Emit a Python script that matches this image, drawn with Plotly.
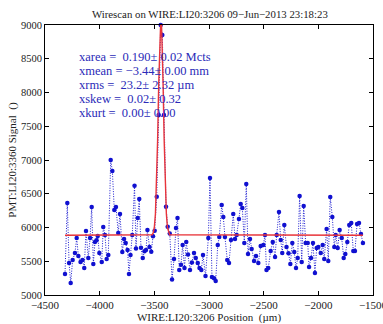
import plotly.graph_objects as go

# Measured wire-scan data (position in µm, PMT signal)
positions = [-4317, -4296, -4280, -4265, -4247, -4226, -4210, -4195, -4175, -4157,
             -4141, -4125, -4104, -4088, -4073, -4058, -4043, -4029, -4018, -4003,
             -3981, -3967, -3951, -3936, -3921, -3899, -3884, -3866, -3851, -3830,
             -3814, -3793, -3777, -3762, -3745, -3732, -3718, -3702, -3681, -3668,
             -3652, -3638, -3622, -3606, -3590, -3576, -3563, -3544, -3528, -3512,
             -3497, -3478, -3460, -3442, -3427, -3412, -3393, -3378, -3359, -3338,
             -3320, -3302, -3288, -3272, -3256, -3241, -3224, -3208, -3192, -3174,
             -3156, -3137, -3121, -3103, -3087, -3070, -3055, -3032, -3006, -2991,
             -2973, -2954, -2939, -2920, -2906, -2884, -2869, -2854, -2833, -2817,
             -2799, -2778, -2762, -2747, -2726, -2710, -2695, -2677, -2659, -2643,
             -2625, -2610, -2588, -2570, -2549, -2527, -2503, -2488, -2474, -2458,
             -2436, -2417, -2396, -2381, -2360, -2344, -2330, -2311, -2291, -2273,
             -2256, -2238, -2220, -2204, -2189, -2171, -2152, -2134, -2116, -2097,
             -2085, -2067, -2049, -2031, -2015, -2000, -1978, -1960, -1946, -1924,
             -1909, -1891, -1872, -1854, -1841, -1823, -1805, -1786, -1768, -1753,
             -1735, -1717, -1699, -1680, -1665, -1646, -1628, -1610, -1592]

signal = [5311, 6363, 5474, 5178, 5519, 5622, 5844, 5578, 5490, 5520,
          5400, 5948, 5548, 5844, 6304, 5459, 5785, 5810, 5874, 5622,
          5489, 6007, 5889, 5533, 5593, 7000, 6837, 6259, 6304, 5918,
          6200, 5637, 5830, 5770, 5667, 5311, 5593, 5889, 6620, 5690,
          6141, 6422, 5700, 5548, 5650, 5667, 5963, 5711, 5640, 5870,
          5953, 6456, 7667, 9000, 8852, 7667, 6308, 6012, 5911, 5230,
          5533, 5993, 6141, 5370, 5450, 5741, 5400, 5785, 5600, 5370,
          5480, 5622, 5550, 5474, 5400, 5370, 5593, 5281, 5844, 6733,
          5267, 5250, 5207, 5741, 5859, 6333, 6156, 5859, 5519, 5474,
          5815, 6200, 5830, 5889, 6126, 6348, 6289, 5770, 6644, 5607,
          5830, 5681, 5504, 5578, 5474, 5726, 5741, 5889, 5370, 5400,
          5652, 5785, 5563, 5889, 6230, 5815, 5622, 6037, 5711, 5620,
          5459, 5770, 5637, 5400, 5548, 6467, 5489, 6319, 5770, 5770,
          5415, 5548, 5770, 5326, 5696, 5711, 5622, 5741, 5533, 5978,
          5504, 6452, 6156, 5711, 5889, 5696, 5963, 5844, 5548, 5607,
          5785, 6037, 6067, 5652, 5652, 6052, 6067, 5904, 5770]

# Gaussian fit curve
fit_x = [-4317, -3520, -3510, -3500, -3490, -3480, -3470, -3460, -3450, -3445,
         -3440, -3435, -3430, -3420, -3410, -3400, -3390, -3380, -3370, -3360, -1592]
fit_y = [5885, 5893, 5919, 6000, 6203, 6620, 7293, 8127, 8846, 9061,
         9135, 9061, 8846, 8127, 7293, 6620, 6203, 6000, 5919, 5893, 5885]

stats_lines = ["xarea =  0.190\u00b1 0.02 Mcts",
               "xmean = \u22123.44\u00b1 0.00 mm",
               "xrms =  23.2\u00b1 2.32 \u00b5m",
               "xskew =  0.02\u00b1 0.32",
               "xkurt =  0.00\u00b1 0.00"]
stats_y = [8526, 8319, 8111, 7904, 7696]

x_ticks = [-4500, -4000, -3500, -3000, -2500, -2000, -1500]
y_ticks = [5000, 5500, 6000, 6500, 7000, 7500, 8000, 8500, 9000]

SERIF = "Liberation Serif, Times New Roman, serif"

fig = go.Figure()
fig.add_trace(go.Scatter(
    x=positions, y=signal, mode="lines+markers",
    line=dict(color="#1a1ad0", width=1, dash="1px,1.5px"),
    marker=dict(color="#1010d0", size=4.5, symbol="circle"),
    cliponaxis=False, showlegend=False, hoverinfo="skip"))
fig.add_trace(go.Scatter(
    x=fit_x, y=fit_y, mode="lines",
    line=dict(color="#e8343a", width=1.4),
    showlegend=False, hoverinfo="skip"))

for txt, yv in zip(stats_lines, stats_y):
    fig.add_annotation(x=-4195, y=yv, text=txt, showarrow=False,
                       xanchor="left", yanchor="middle", borderpad=0,
                       font=dict(family=SERIF, size=12.5, color="#2a2ab8"))

axis_common = dict(showline=True, linecolor="black", linewidth=1, mirror="ticks",
                   ticks="inside", ticklen=4, tickcolor="black", showgrid=False,
                   zeroline=False, automargin=False)

fig.update_xaxes(range=[-4500, -1500], tickvals=x_ticks,
                 ticktext=["\u2212" + str(abs(v)) for v in x_ticks],
                 ticklabeloverflow="allow",
                 tickfont=dict(family=SERIF, size=11, color="#222"),
                 title=dict(text="WIRE:LI20:3206 Position  (\u00b5m)", standoff=0,
                            font=dict(family=SERIF, size=11, color="#222")),
                 **axis_common)
fig.update_yaxes(range=[5000, 9000], tickvals=y_ticks,
                 tickfont=dict(family=SERIF, size=10.5, color="#222"),
                 title=dict(text="PMT:LI20:3360 Signal  ()", standoff=2,
                            font=dict(family=SERIF, size=11, color="#222")),
                 **axis_common)

fig.update_layout(
    width=383, height=324,
    margin=dict(l=45, r=10, t=25, b=29),
    paper_bgcolor="white", plot_bgcolor="white",
    hovermode=False,
    title=dict(text="Wirescan on WIRE:LI20:3206 09\u2212Jun\u22122013 23:18:23",
               x=0.548, xanchor="center", y=0.957, yanchor="middle",
               font=dict(family=SERIF, size=10.8, color="#222")),
)

# remove the default page margin so the figure fills the window exactly
fig.write_html("out.html",
               config={"displayModeBar": False, "staticPlot": True},
               post_script="document.body.style.margin='0';"
                           "document.body.style.overflow='hidden';")
